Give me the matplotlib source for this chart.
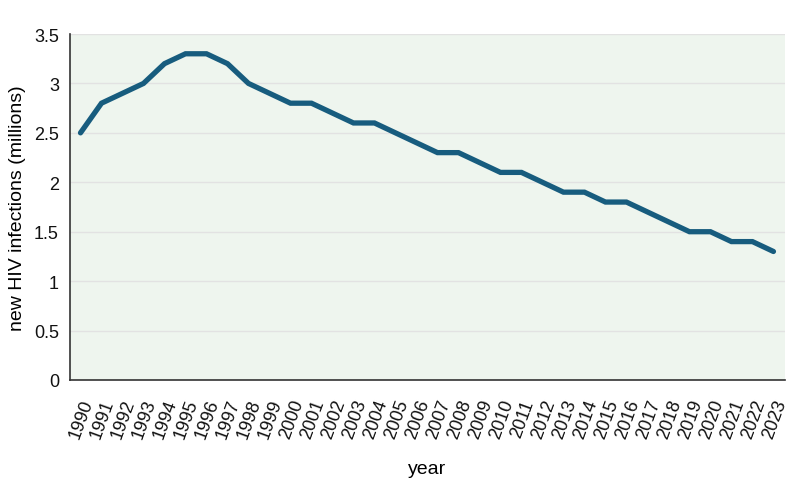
import matplotlib.pyplot as plt

plt.rcParams['font.family'] = ['Liberation Sans', 'DejaVu Sans']

# data
years = list(range(1990, 2024))
infections = [2.5, 2.8, 2.9, 3.0, 3.2, 3.3, 3.3, 3.2, 3.0, 2.9,
              2.8, 2.8, 2.7, 2.6, 2.6, 2.5, 2.4, 2.3, 2.3, 2.2,
              2.1, 2.1, 2.0, 1.9, 1.9, 1.8, 1.8, 1.7, 1.6, 1.5,
              1.5, 1.4, 1.4, 1.3]
y_ticks = [0, 0.5, 1, 1.5, 2, 2.5, 3, 3.5]
y_tick_labels = ['0', '0.5', '1', '1.5', '2', '2.5', '3', '3.5']

fig = plt.figure(figsize=(8, 5.02), dpi=100)
ax = fig.add_axes([70 / 800, 1 - 381 / 502, 715 / 800, 346 / 502])
ax.set_facecolor('#eef5ee')

ax.plot(years, infections, color='#175c7e', linewidth=3.8,
        solid_joinstyle='miter', solid_capstyle='round', zorder=3)

ax.set_xlim(1989.5, 2023.55)
ax.set_ylim(0, 3.5)
ax.set_yticks(y_ticks)
ax.set_yticklabels(y_tick_labels)
ax.set_xticks(years)
ax.set_xticklabels([str(y) for y in years], rotation=70, ha='right',
                   rotation_mode='anchor')

ax.grid(axis='y', color='#e2e2e2', linewidth=1)
ax.set_axisbelow(True)
ax.tick_params(length=0, labelsize=13, colors='#111111')
ax.tick_params(axis='y', pad=8)
ax.tick_params(axis='x', pad=12)

for side in ['top', 'right']:
    ax.spines[side].set_visible(False)
for side in ['left', 'bottom']:
    ax.spines[side].set_color('#333333')
    ax.spines[side].set_linewidth(1.2)

ax.set_xlabel('year', fontsize=14, labelpad=14)
ax.set_ylabel('new HIV infections (millions)', fontsize=14, labelpad=6)

fig.savefig('out.png', dpi=100)
